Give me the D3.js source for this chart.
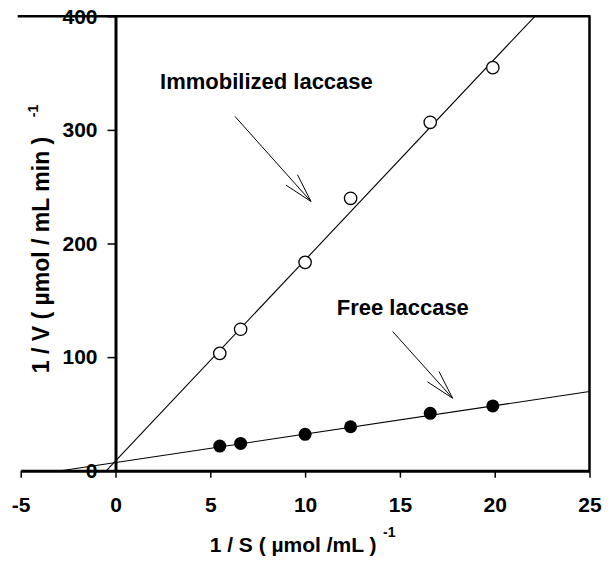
<!DOCTYPE html>
<html>
<head>
<meta charset="utf-8">
<script src="https://cdn.jsdelivr.net/npm/d3@7"></script>
<style>
  html, body { margin: 0; padding: 0; background: #fff; }
  svg { display: block; }
  text { font-family: "Liberation Sans", Arial, sans-serif; fill: #000; }
</style>
</head>
<body>
<svg id="chart" width="616" height="566"></svg>
<script>
// ---- data ----
const invS = [5.5, 6.6, 10, 12.4, 16.6, 19.9];
const immobilized = [103.3, 124.5, 183.4, 239.8, 306.7, 354.8];
const free = [21.7, 24, 32, 38.7, 50.5, 57];
const immobFit = [17.7, 8.5];   // slope, intercept
const freeFit = [2.5, 7.2];
const xTicks = [-5, 0, 5, 10, 15, 20, 25];
const yTicks = [0, 100, 200, 300, 400];
const labels = ["Immobilized laccase", "Free laccase"];
const labelPos = [[2.35, 336.3], [11.67, 137.2]];
const arrows = [[[6.30, 311.9], [10.31, 237.0]], [[14.62, 122.5], [17.78, 63.8]]];

const svg = d3.select("#chart");
const x = d3.scaleLinear().domain([-5, 25]).range([20.7, 589.5]);
const y = d3.scaleLinear().domain([0, 400]).range([470.7, 16.3]);

// frame: top and right
svg.append("line").attr("x1", x(-5) - 3).attr("x2", x(25) + 1)
  .attr("y1", y(400)).attr("y2", y(400)).attr("stroke", "#000").attr("stroke-width", 2.5);
svg.append("line").attr("x1", x(25)).attr("x2", x(25))
  .attr("y1", y(400)).attr("y2", y(0)).attr("stroke", "#000").attr("stroke-width", 2.5);

// x axis at y=0
const xAxis = d3.axisBottom(x).tickValues(xTicks).tickSize(7).tickSizeOuter(0).tickPadding(19.4)
  .tickFormat(d => d < 0 ? "-" + Math.abs(d) : String(d));
const gx = svg.append("g").attr("transform", `translate(0,${y(0)})`).call(xAxis);
gx.select(".domain").attr("stroke-width", 3);
gx.selectAll(".tick line").attr("stroke-width", 1.5);
gx.selectAll("text").attr("font-size", 21).attr("font-weight", "bold")
  .style("font-family", "Liberation Sans, Arial, sans-serif").attr("fill", "#000");

// y axis at x=0
const yAxis = d3.axisLeft(y).tickValues(yTicks).tickSize(8).tickSizeOuter(0).tickPadding(10);
const gy = svg.append("g").attr("transform", `translate(${x(0)},0)`).call(yAxis);
gy.select(".domain").attr("stroke-width", 3);
gy.selectAll(".tick line").attr("stroke-width", 1.5);
gy.selectAll("text").attr("font-size", 21).attr("font-weight", "bold")
  .style("font-family", "Liberation Sans, Arial, sans-serif").attr("fill", "#000");

// fit lines
function fitLine(fit) {
  const [m, b] = fit;
  const x0 = -b / m;
  const x1 = Math.min(25, (400 - b) / m);
  return [[x0, m * x0 + b], [x1, m * x1 + b]];
}
const lineGen = d3.line().x(d => x(d[0])).y(d => y(d[1]));
[immobFit, freeFit].forEach(f => {
  svg.append("path").attr("d", lineGen(fitLine(f)))
    .attr("fill", "none").attr("stroke", "#000").attr("stroke-width", 1.1);
});

// points
svg.append("g").selectAll("circle").data(invS.map((v, i) => [v, immobilized[i]]))
  .join("circle").attr("cx", d => x(d[0])).attr("cy", d => y(d[1])).attr("r", 6.2)
  .attr("fill", "#fff").attr("stroke", "#000").attr("stroke-width", 1.3);
svg.append("g").selectAll("circle").data(invS.map((v, i) => [v, free[i]]))
  .join("circle").attr("cx", d => x(d[0])).attr("cy", d => y(d[1])).attr("r", 6.5)
  .attr("fill", "#000");

// annotations
labels.forEach((t, i) => {
  svg.append("text").attr("x", x(labelPos[i][0])).attr("y", y(labelPos[i][1]))
    .attr("font-size", 22).attr("font-weight", "bold").text(t);
});
arrows.forEach(a => {
  const p0 = [x(a[0][0]), y(a[0][1])], p1 = [x(a[1][0]), y(a[1][1])];
  const ang = Math.atan2(p1[1] - p0[1], p1[0] - p0[0]);
  const L = 30, h = 15 * Math.PI / 180;
  const b1 = [p1[0] - L * Math.cos(ang - h), p1[1] - L * Math.sin(ang - h)];
  const b2 = [p1[0] - L * Math.cos(ang + h), p1[1] - L * Math.sin(ang + h)];
  svg.append("path")
    .attr("d", `M${p0}L${p1}M${b1}L${p1}L${b2}`)
    .attr("fill", "none").attr("stroke", "#000").attr("stroke-width", 1);
});

// axis titles
svg.append("text").attr("x", (x(-5) + x(25)) / 2 + 0).attr("y", 552)
  .attr("text-anchor", "middle").attr("font-size", 21).attr("font-weight", "bold")
  .attr("dx", -12)
  .text("1 / S ( µmol /mL )");
svg.append("text").attr("x", 383).attr("y", 537)
  .attr("font-size", 14).attr("font-weight", "bold").text("-1");

svg.append("text").attr("transform", "translate(49,255) rotate(-90)")
  .attr("text-anchor", "middle").attr("font-size", 23).attr("font-weight", "bold")
  .text("1 / V (  µmol / mL min )");
svg.append("text").attr("transform", "translate(38,111) rotate(-90)")
  .attr("text-anchor", "middle").attr("font-size", 14).attr("font-weight", "bold").text("-1");
</script>
</body>
</html>
